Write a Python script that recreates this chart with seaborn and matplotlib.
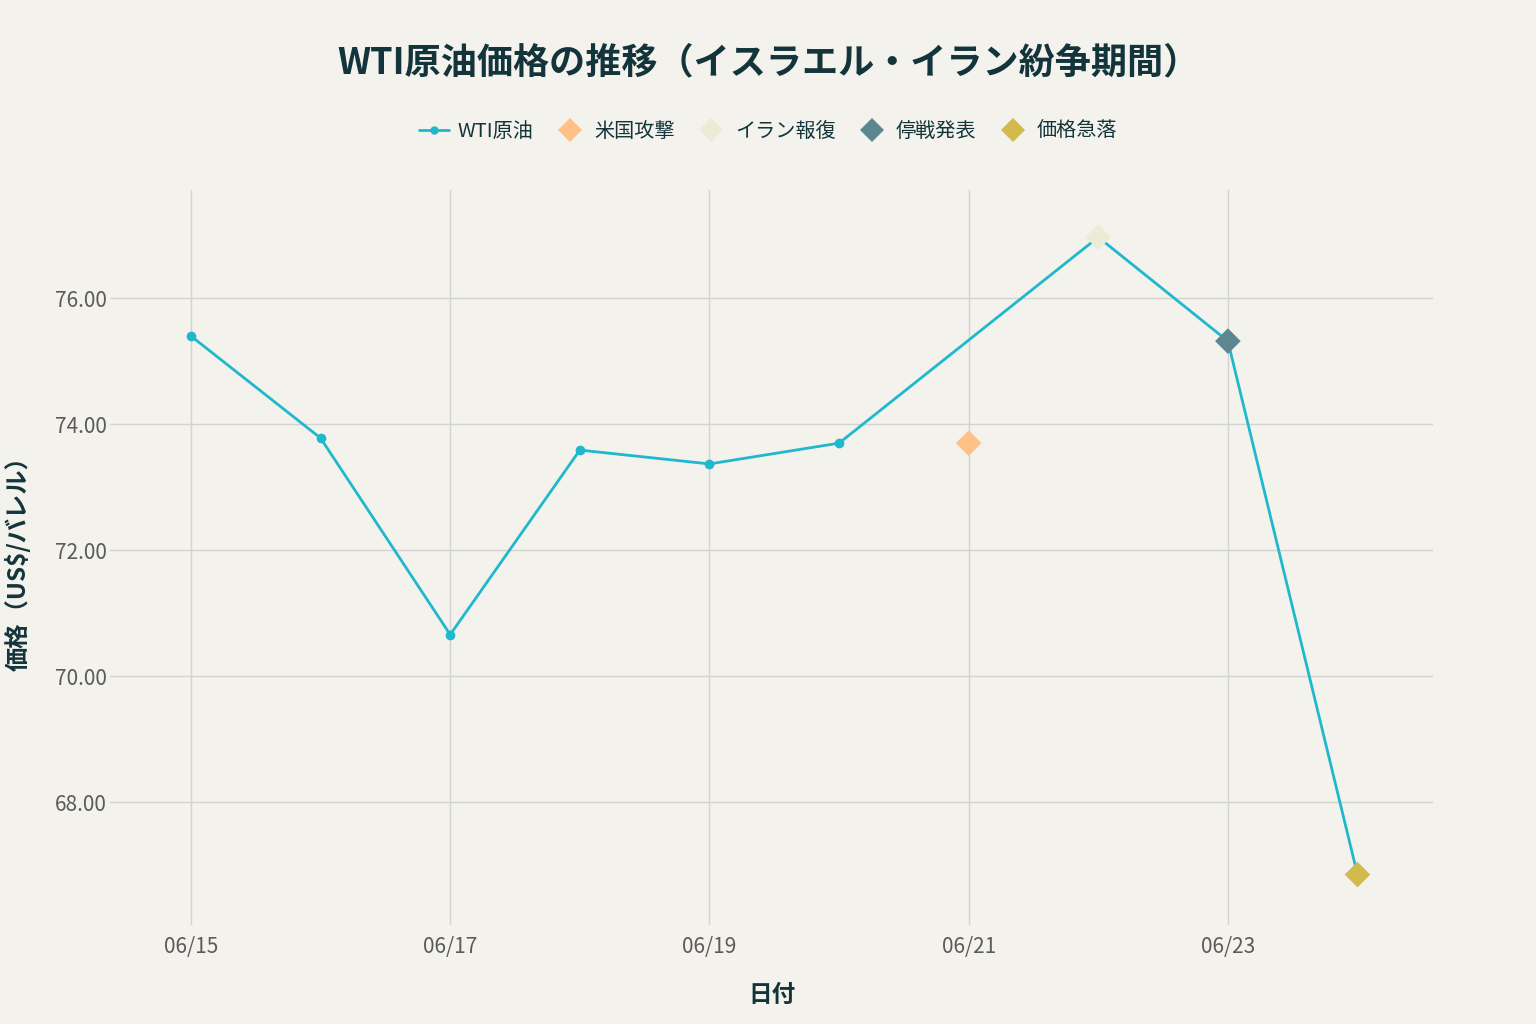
import matplotlib
matplotlib.use('Agg')
import matplotlib.pyplot as plt
import matplotlib.dates as mdates
from matplotlib.lines import Line2D
import pandas as pd
import seaborn as sns

# WTI price series (06/21 has no quote in the source chart)
wti_dates = ['2025-06-15', '2025-06-16', '2025-06-17', '2025-06-18', '2025-06-19',
             '2025-06-20', '2025-06-22', '2025-06-23', '2025-06-24']
wti_prices = [75.40, 73.78, 70.66, 73.59, 73.37, 73.70, 76.97, 75.32, 66.85]

# event markers
event_names = ['米国攻撃', 'イラン報復', '停戦発表', '価格急落']
event_dates = ['2025-06-21', '2025-06-22', '2025-06-23', '2025-06-24']
event_prices = [73.70, 76.97, 75.32, 66.85]
event_colors = ['#FFC185', '#ECEBD5', '#5D878F', '#D2BA4C']

y_ticks = [68, 70, 72, 74, 76]

bg = '#F3F2EC'
line_color = '#1FB8CD'
dark = '#13343B'

sns.set_theme(style='white')
plt.rcParams['font.family'] = ['Noto Sans CJK JP', 'DejaVu Sans']

df = pd.DataFrame({'date': pd.to_datetime(wti_dates), 'price': wti_prices})
ev = pd.DataFrame({'date': pd.to_datetime(event_dates), 'price': event_prices,
                   'event': event_names})

fig = plt.figure(figsize=(15.36, 10.24), dpi=100, facecolor=bg)
ax = fig.add_axes([0.0716, 0.0967, 0.8614, 0.7178])
ax.set_facecolor(bg)

sns.lineplot(data=df, x='date', y='price', ax=ax, color=line_color, lw=2,
             marker='o', markersize=7, markeredgewidth=0, zorder=3)
sns.scatterplot(data=ev, x='date', y='price', hue='event', hue_order=event_names,
                palette=event_colors, marker='D', s=170, linewidth=0,
                ax=ax, zorder=4, legend=False)

start = pd.Timestamp('2025-06-15')
ax.set_xlim(start - pd.Timedelta(hours=15), pd.Timestamp('2025-06-24') + pd.Timedelta(hours=14))
ax.set_ylim(66.05, 77.72)
ax.xaxis.set_major_locator(mdates.DayLocator(bymonthday=[15, 17, 19, 21, 23]))
ax.xaxis.set_major_formatter(mdates.DateFormatter('%m/%d'))
ax.set_yticks(y_ticks)
ax.set_yticklabels([f'{v:.2f}' for v in y_ticks])

ax.grid(True, color='#D3D3CF', lw=1)
ax.set_axisbelow(True)
for s in ax.spines.values():
    s.set_visible(False)
ax.tick_params(axis='both', length=0, labelsize=15, colors='#5B5B5B')
ax.tick_params(axis='x', pad=8)
ax.tick_params(axis='y', pad=2)

ax.set_xlabel('日付', fontsize=17, fontweight='bold', color=dark, labelpad=18)
ax.set_ylabel('価格（US$/バレル）', fontsize=17.5, fontweight='bold', color=dark)
ax.yaxis.set_label_coords(-0.060, 0.5)

fig.suptitle('WTI原油価格の推移（イスラエル・イラン紛争期間）', x=0.5, y=0.957,
             fontsize=26, fontweight='bold', color=dark)

handles = [Line2D([0], [0], color=line_color, lw=2, marker='o', markersize=6,
                  markeredgewidth=0, label='WTI原油')]
for name, c in zip(event_names, event_colors):
    handles.append(Line2D([0], [0], lw=0, marker='D', markersize=12,
                          markerfacecolor=c, markeredgewidth=0, label=name))
fig.legend(handles=handles, loc='center', bbox_to_anchor=(0.5, 0.872), ncol=5,
           frameon=False, fontsize=14.5, handlelength=1.5, handletextpad=0.45,
           columnspacing=1.05, labelcolor=dark)

fig.savefig('out.png', dpi=100, facecolor=bg)
